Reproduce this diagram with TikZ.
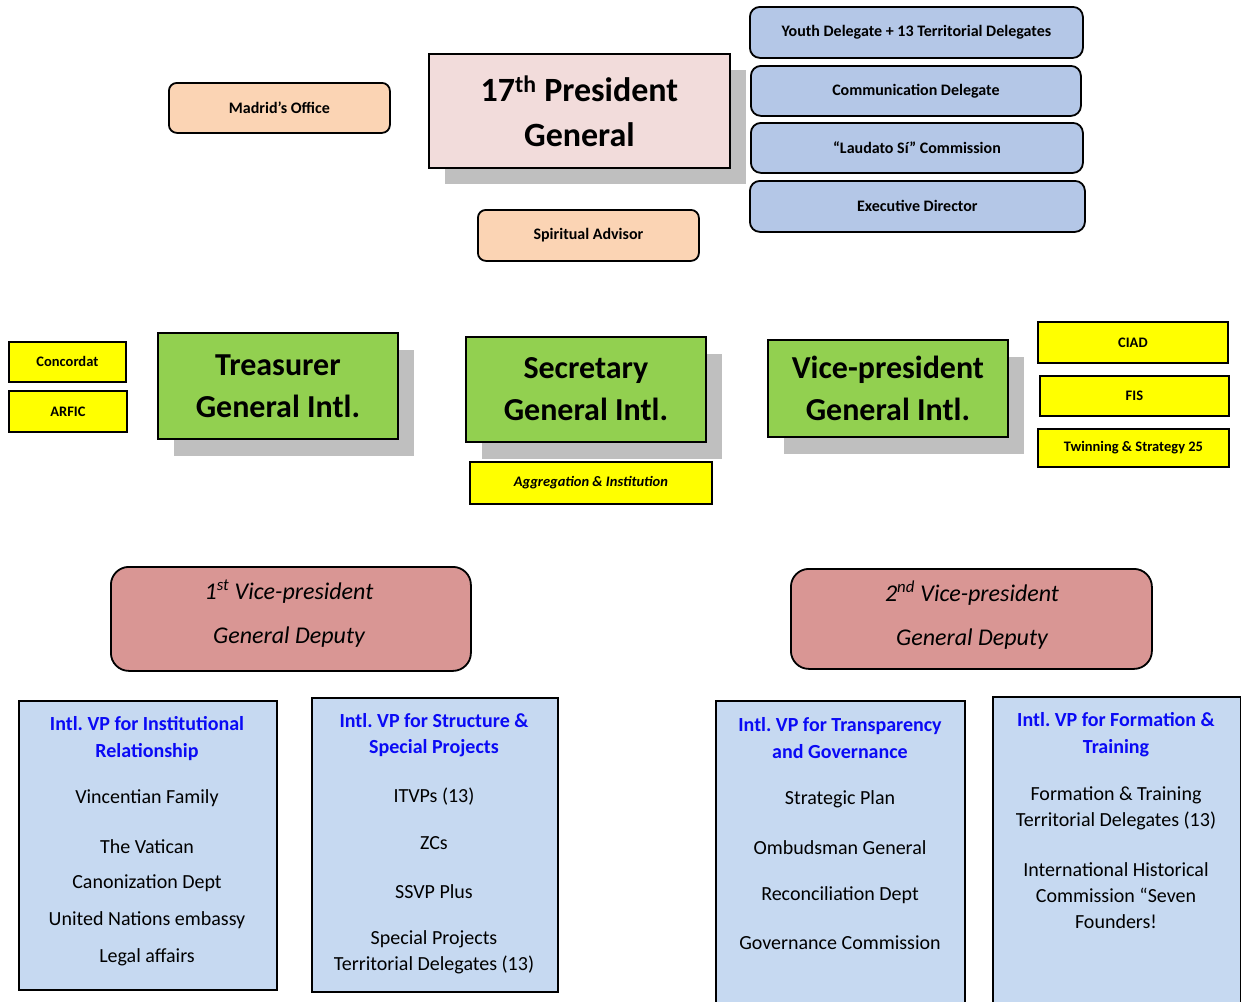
\documentclass[tikz,border=0pt]{standalone}
\usepackage{fontspec}
\setmainfont{Carlito}
\frenchspacing
\definecolor{peach}{HTML}{FBD4B4}
\definecolor{pinkbox}{HTML}{F2DCDB}
\definecolor{topblue}{HTML}{B4C7E7}
\definecolor{lowblue}{HTML}{C6D9F1}
\definecolor{greenbox}{HTML}{92D050}
\definecolor{yellowbox}{HTML}{FFFF00}
\definecolor{rosebox}{HTML}{D99694}
\definecolor{shadowgray}{HTML}{BFBFBF}
\definecolor{headblue}{HTML}{0A0AF5}
\begin{document}
\begin{tikzpicture}[x=1pt,y=-1pt,
  base/.style={draw=black,line width=1.8pt,anchor=north west,inner sep=0pt,align=center},
  peachbox/.style={base,fill=peach,rounded corners=8pt,font=\bfseries\fontsize{16}{19}\selectfont},
  bluebox/.style={base,fill=topblue,rounded corners=10pt,font=\bfseries\fontsize{16}{19}\selectfont},
  ybox/.style={base,fill=yellowbox,font=\bfseries\fontsize{14.5}{17}\selectfont},
  gbox/.style={base,fill=greenbox,font=\bfseries\fontsize{32}{42}\selectfont,
     preaction={draw=none,fill=shadowgray,transform canvas={xshift=16pt,yshift=-17pt}}},
  rbox/.style={base,fill=rosebox,rounded corners=18pt},
  rtext/.style={font=\itshape\fontsize{24}{44}\selectfont,align=center,inner sep=0pt},
  lbox/.style={base,fill=lowblue},
  head/.style={font=\bfseries\fontsize{20}{26.5}\selectfont,text=headblue,align=center,inner sep=0pt},
  item/.style={font=\fontsize{20}{26}\selectfont,align=center,inner sep=0pt}
]
\useasboundingbox[fill=white] (0,0) rectangle (1241,1001);

% top row
\node[peachbox,minimum width=221pt,minimum height=50pt] (madrid) at (168,82) {Madrid’s Office};
\node[base,fill=pinkbox,minimum width=301pt,minimum height=114pt,
  font=\bfseries\fontsize{34}{45}\selectfont,
  preaction={draw=none,fill=shadowgray,transform canvas={xshift=16pt,yshift=-16pt}}] (pres) at (428,53)
  {17\textsuperscript{th} President\\General};
\node[peachbox,minimum width=221pt,minimum height=51pt] (spirit) at (477,209) {Spiritual Advisor};

\node[bluebox,minimum width=333pt,minimum height=51pt] (youth) at (749,6) {Youth Delegate + 13 Territorial Delegates};
\node[bluebox,minimum width=330pt,minimum height=50pt] (comm) at (750,65) {Communication Delegate};
\node[bluebox,minimum width=332pt,minimum height=50pt] (laud) at (750,122) {“Laudato Sí” Commission};
\node[bluebox,minimum width=335pt,minimum height=51pt] (exec) at (749,180) {Executive Director};

% middle row
\node[ybox,minimum width=117pt,minimum height=40pt] (conc) at (8,341) {Concordat};
\node[ybox,minimum width=118pt,minimum height=41pt] (arfic) at (8,390) {ARFIC};
\node[gbox,minimum width=240pt,minimum height=106pt] (treas) at (157,332) {Treasurer\\General Intl.};
\node[gbox,minimum width=240pt,minimum height=105pt] (secr) at (465,336) {Secretary\\General Intl.};
\node[ybox,minimum width=242pt,minimum height=42pt,font=\bfseries\itshape\fontsize{14.5}{17}\selectfont] (aggr) at (469,461) {Aggregation \& Institution};
\node[gbox,minimum width=240pt,minimum height=97pt] (vpg) at (767,339) {Vice-president\\General Intl.};
\node[ybox,minimum width=190pt,minimum height=41pt] (ciad) at (1037,321) {CIAD};
\node[ybox,minimum width=189pt,minimum height=40pt] (fis) at (1039,375) {FIS};
\node[ybox,minimum width=191pt,minimum height=38pt] (twin) at (1037,428) {Twinning \& Strategy 25};

% deputies
\node[rbox,minimum width=360pt,minimum height=104pt] (vp1) at (110,566) {};
\node[rtext] (vp1t) at (289,614) {1\textsuperscript{st} Vice-president\\General Deputy};
\node[rbox,minimum width=361pt,minimum height=100pt] (vp2) at (790,568) {};
\node[rtext] (vp2t) at (972,615) {2\textsuperscript{nd} Vice-president\\General Deputy};

% lower boxes
\node[lbox,minimum width=258pt,minimum height=289pt] (b1) at (18,700) {};
\node[lbox,minimum width=246pt,minimum height=294pt] (b2) at (311,697) {};
\node[lbox,minimum width=249pt,minimum height=310pt] (b3) at (715,700) {};
\node[lbox,minimum width=248pt,minimum height=314pt] (b4) at (992,696) {};

\node[head] (h1) at (147,738.5) {Intl. VP for Institutional\\Relationship};
\node[item] (b1a) at (147,798.5) {Vincentian Family};
\node[item] (b1b) at (147,846.5) {The Vatican};
\node[item] (b1c) at (147,883.5) {Canonization Dept};
\node[item] (b1d) at (147,920.5) {United Nations embassy};
\node[item] (b1e) at (147,957.5) {Legal affairs};

\node[head] (h2) at (434,735) {Intl. VP for Structure \&\\Special Projects};
\node[item] (b2a) at (434,796.5) {ITVPs (13)};
\node[item] (b2b) at (434,843.5) {ZCs};
\node[item] (b2c) at (434,891.5) {SSVP Plus};
\node[item] (b2d) at (434,952.5) {Special Projects\\Territorial Delegates (13)};

\node[head] (h3) at (840,738) {Intl. VP for Transparency\\and Governance};
\node[item] (b3a) at (840,799.5) {Strategic Plan};
\node[item] (b3b) at (840,847.5) {Ombudsman General};
\node[item] (b3c) at (840,895.5) {Reconciliation Dept};
\node[item] (b3d) at (840,942.5) {Governance Commission};

\node[head] (h4) at (1116,734.5) {Intl. VP for Formation \&\\Training};
\node[item] (b4a) at (1116,808) {Formation \& Training\\Territorial Delegates (13)};
\node[item] (b4b) at (1116,895.5) {International Historical\\Commission “Seven\\Founders!};
\end{tikzpicture}
\end{document}
